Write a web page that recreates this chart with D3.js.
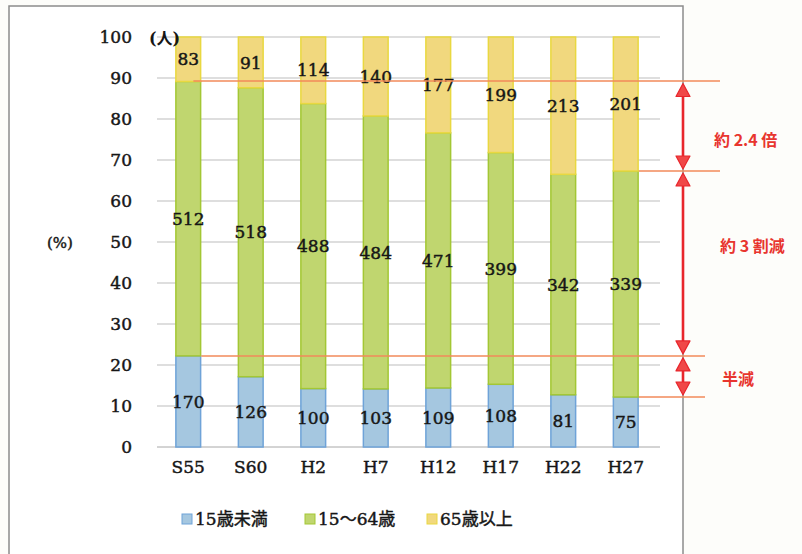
<!DOCTYPE html>
<html>
<head>
<meta charset="utf-8">
<script src="https://cdn.jsdelivr.net/npm/d3@7/dist/d3.min.js"></script>
<style>
  html, body { margin: 0; padding: 0; background: #fdfdfa; }
  svg { display: block; }
</style>
</head>
<body>
<svg id="chart" width="802" height="554"></svg>
<script>
// Population by age group (persons), shown as 100% stacked bars
const categories = ["S55", "S60", "H2", "H7", "H12", "H17", "H22", "H27"];
const under15 = [170, 126, 100, 103, 109, 108, 81, 75];
const working = [512, 518, 488, 484, 471, 399, 342, 339];
const elderly = [83, 91, 114, 140, 177, 199, 213, 201];
const seriesNames = ["15歳未満", "15～64歳", "65歳以上"];
const yTicks = [0, 10, 20, 30, 40, 50, 60, 70, 80, 90, 100];
const notes = ["約 2.4 倍", "約 3 割減", "半減"];

const fills = ["#a5c7e0", "#c0d66f", "#f1d87e"];
const edges = ["#6fa3d8", "#a3c734", "#e9d840"];
const serif = "'DejaVu Serif', 'Noto Sans CJK JP', serif";
const gothic = "'Noto Sans CJK JP', sans-serif";
const ink = "#161616";

const series = [under15, working, elderly];
const rows = categories.map((c, i) => {
  const total = under15[i] + working[i] + elderly[i];
  const r = { cat: c };
  seriesNames.forEach((n, k) => { r[n] = series[k][i] / total * 100; r[n + "_v"] = series[k][i]; });
  return r;
});
const stacked = d3.stack().keys(seriesNames)(rows);

const svg = d3.select("#chart");

// slightly heavier text, like printed numerals
const heavy = sel => sel.attr("stroke", ink).attr("stroke-width", 0.45).attr("paint-order", "stroke");

// outer frame
svg.append("rect").attr("x", 9).attr("y", 6).attr("width", 674).attr("height", 560)
  .attr("fill", "#ffffff").attr("stroke", "#8c8c8c").attr("stroke-width", 1.5);

const x = d3.scaleBand().domain(categories).range([157, 657])
  .paddingInner(0.58).paddingOuter(0.29);
const y = d3.scaleLinear().domain([0, 100]).range([447, 37]);

// gridlines
svg.append("g").selectAll("line").data(yTicks).join("line")
  .attr("x1", 157).attr("x2", 660)
  .attr("y1", d => y(d)).attr("y2", d => y(d))
  .attr("stroke", d => d === 0 ? "#a8a8a8" : "#bdbdbd").attr("stroke-width", 1);

// y axis labels
const yAxis = d3.axisLeft(y).tickValues(yTicks).tickSize(0).tickPadding(0);
const gy = svg.append("g").attr("transform", "translate(132,0)").call(yAxis);
gy.select(".domain").remove();
gy.selectAll("text").attr("font-family", serif).attr("font-size", 17).attr("fill", ink).call(heavy);

// x axis labels
const xAxis = d3.axisBottom(x).tickSize(0).tickPadding(0);
const gx = svg.append("g").attr("transform", "translate(0,461)").call(xAxis);
gx.select(".domain").remove();
gx.selectAll("text").attr("font-family", serif).attr("font-size", 17).attr("fill", ink).call(heavy);

// bars
const layers = svg.append("g").selectAll("g").data(stacked).join("g");
layers.each(function (layer, k) {
  d3.select(this).selectAll("rect").data(layer).join("rect")
    .attr("x", d => x(d.data.cat) + 0.75)
    .attr("width", x.bandwidth() - 1.5)
    .attr("y", d => y(d[1]))
    .attr("height", d => y(d[0]) - y(d[1]))
    .attr("fill", fills[k])
    .attr("stroke", edges[k]).attr("stroke-width", 1.5);
});

// comparison lines between first and last year
const first = 0, last = categories.length - 1;
const topFirst = stacked[1][first][1], topLast = stacked[1][last][1];
const lowFirst = stacked[0][first][1], lowLast = stacked[0][last][1];
const xFirst = x(categories[first]) + x.bandwidth() - 8;
const xLast = x(categories[last]) + x.bandwidth();
const refLines = [
  { v: topFirst, x1: xFirst, x2: 720 },
  { v: topLast, x1: xLast, x2: 720 },
  { v: lowFirst, x1: xFirst + 8, x2: 705 },
  { v: lowLast, x1: xLast, x2: 705 }
];
svg.append("g").selectAll("line").data(refLines).join("line")
  .attr("x1", d => d.x1).attr("x2", d => d.x2)
  .attr("y1", d => Math.round(y(d.v))).attr("y2", d => Math.round(y(d.v)))
  .attr("stroke", "#f28a5a").attr("stroke-width", 1.5);

// value labels
layers.each(function (layer) {
  d3.select(this).selectAll("text").data(layer).join("text")
    .attr("x", d => x(d.data.cat) + x.bandwidth() / 2)
    .attr("y", d => y((d[0] + d[1]) / 2))
    .attr("dy", "0.36em")
    .attr("text-anchor", "middle")
    .attr("font-family", serif).attr("font-size", 17)
    .attr("fill", ink).call(heavy)
    .text(d => d.data[layer.key + "_v"]);
});

// axis unit captions
svg.append("text").attr("x", 149).attr("y", 44).attr("font-family", serif)
  .attr("font-size", 16).attr("font-weight", "bold").attr("fill", ink).text("(人)");
svg.append("text").attr("x", 47).attr("y", 248).attr("font-family", serif)
  .attr("font-size", 15).attr("fill", ink).call(heavy).text("(%)");

// double-headed arrows
const ax = 683;
const spans = [[topFirst, topLast], [topLast, lowFirst], [lowFirst, lowLast]];
const red = "#e8262c";
const ag = svg.append("g");
spans.forEach(([a, b]) => {
  const y1 = y(a) + 2, y2 = y(b) - 2;
  ag.append("line").attr("x1", ax).attr("x2", ax).attr("y1", y1 + 8).attr("y2", y2 - 8)
    .attr("stroke", red).attr("stroke-width", 2.6);
  ag.append("path").attr("d", `M${ax},${y1} L${ax - 7},${y1 + 13} L${ax + 7},${y1 + 13} Z`)
    .attr("fill", "#f04848").attr("stroke", red).attr("stroke-width", 1.2).attr("stroke-linejoin", "round");
  ag.append("path").attr("d", `M${ax},${y2} L${ax - 7},${y2 - 13} L${ax + 7},${y2 - 13} Z`)
    .attr("fill", "#f04848").attr("stroke", red).attr("stroke-width", 1.2).attr("stroke-linejoin", "round");
});

// annotation texts
const notePos = [
  { x: 714, y: (y(topFirst) + y(topLast)) / 2 + 14 },
  { x: 720, y: (y(topLast) + y(lowFirst)) / 2 - 17 },
  { x: 722, y: (y(lowFirst) + y(lowLast)) / 2 + 3 }
];
svg.append("g").selectAll("text").data(notes).join("text")
  .attr("x", (d, i) => notePos[i].x).attr("y", (d, i) => notePos[i].y)
  .attr("dy", "0.36em")
  .attr("font-family", gothic).attr("font-size", 16).attr("font-weight", "bold")
  .attr("fill", "#e8352e").text(d => d);

// legend
const legendX = [182, 305, 427];
const lg = svg.append("g").selectAll("g").data(seriesNames).join("g")
  .attr("transform", (d, i) => `translate(${legendX[i]},519)`);
lg.append("rect").attr("x", 0).attr("y", -5).attr("width", 10).attr("height", 10)
  .attr("fill", (d, i) => fills[i]).attr("stroke", (d, i) => edges[i]).attr("stroke-width", 1);
lg.append("text").attr("x", 13).attr("dy", "0.36em")
  .attr("font-family", serif).attr("font-size", 17).attr("fill", ink).call(heavy)
  .text(d => d);
</script>
</body>
</html>
